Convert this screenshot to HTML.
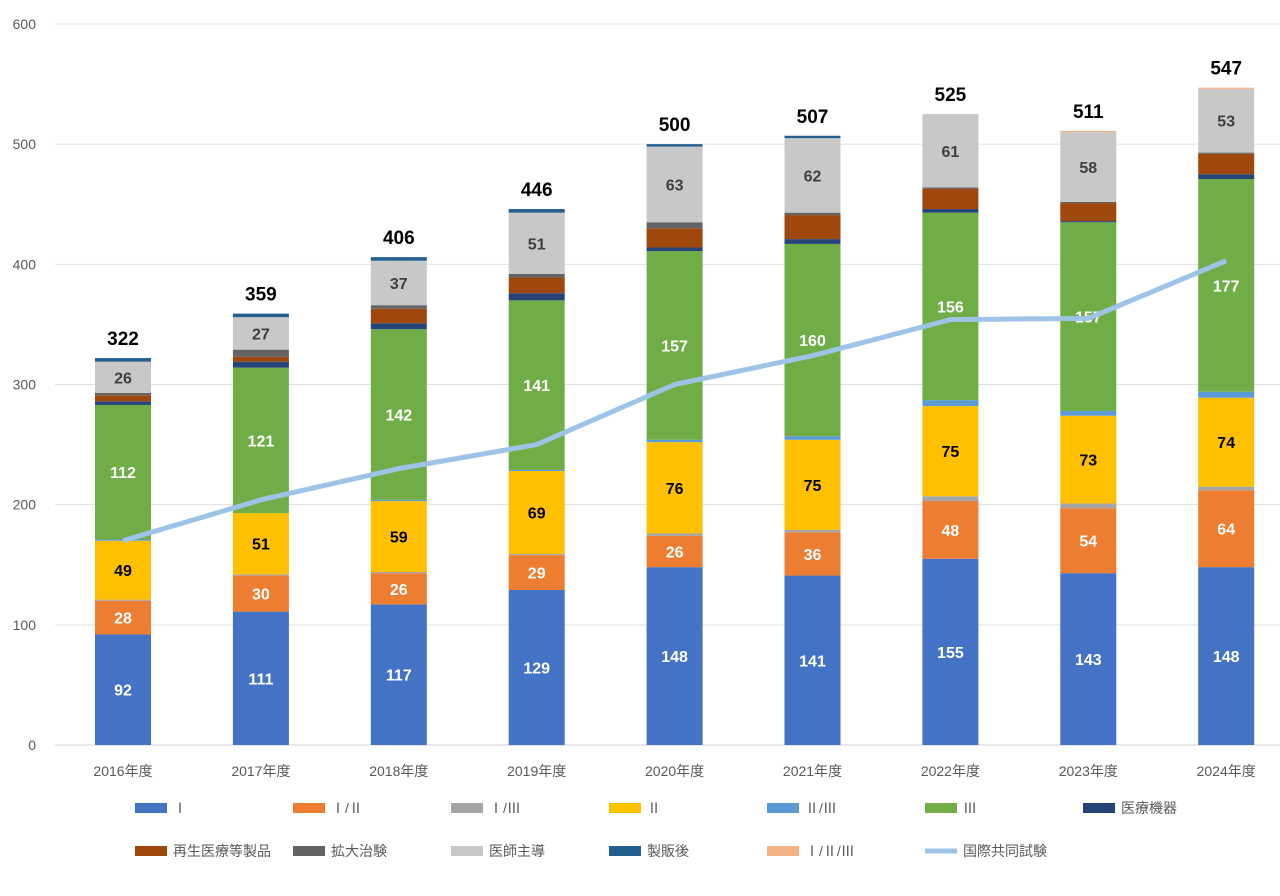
<!DOCTYPE html>
<html><head><meta charset="utf-8"><style>
body{margin:0;background:#fff;font-family:"Liberation Sans","Noto Sans CJK JP",sans-serif}
</style></head><body>
<svg id="c" width="1280" height="896" xmlns="http://www.w3.org/2000/svg" style="display:block"></svg>
<script>
const categories=["2016年度","2017年度","2018年度","2019年度","2020年度","2021年度","2022年度","2023年度","2024年度"];
const seriesNames=["Ⅰ","Ⅰ/Ⅱ","Ⅰ/Ⅲ","Ⅱ","Ⅱ/Ⅲ","Ⅲ","医療機器","再生医療等製品","拡大治験","医師主導","製販後","Ⅰ/Ⅱ/Ⅲ"];
const sI=[92,111,117,129,148,141,155,143,148];
const sI_II=[28,30,26,29,26,36,48,54,64];
const sI_III=[1,1,1,1,2,2,4,4,3];
const sII=[49,51,59,69,76,75,75,73,74];
const sII_III=[1,0,1,1,2,3,5,4,5];
const sIII=[112,121,142,141,157,160,156,157,177];
const sDevice=[3,5,5,6,3,4,3,1,4];
const sRegen=[5,4,12,13,16,20,17,15,17];
const sExpand=[2,6,3,3,5,2,1,1,1];
const sDoctor=[26,27,37,51,63,62,61,58,53];
const sPost=[3,3,3,3,2,2,0,0,0];
const sI_II_III=[0,0,0,0,0,0,0,1,1];
const totals=[322,359,406,446,500,507,525,511,547];
const intl=[170,204,230,250,300,324,354,355,403];
const yTicks=[0,100,200,300,400,500,600];
const colors=["#4472C4","#ED7D31","#A5A5A5","#FFC000","#5B9BD5","#70AD47","#264478","#9E480E","#636363","#C8C8C8","#255E91","#F4B183"];
const allSeries=[sI,sI_II,sI_III,sII,sII_III,sIII,sDevice,sRegen,sExpand,sDoctor,sPost,sI_II_III];
const labelColors={0:"#fff",1:"#fff",3:"#000",5:"#fff",9:"#404040"};
const NS="http://www.w3.org/2000/svg",svg=document.getElementById('c');
const y0=745,ppu=(745-24)/600,x0=55,x1=1280;
const y=v=>y0-v*ppu;
const xc=i=>123+i*137.9;
const bw=56;
function mk(t,a,p){const e=document.createElementNS(NS,t);for(const k in a)e.setAttribute(k,a[k]);(p||svg).appendChild(e);return e;}
yTicks.forEach(t=>{
 const l=mk('line',{x1:x0,x2:x1,y1:y(t),y2:y(t),stroke:t===0?'#d0d0d0':'#e0e0e0','stroke-width':1});
 
 
 const tx=mk('text',{x:36,y:y(t)+5,'text-anchor':'end','font-size':14,fill:'#595959'});tx.textContent=t;
 
 
});
categories.forEach((c,i)=>{
 let acc=0;
 allSeries.forEach((s,k)=>{
  const v=s[i];if(v<=0)return;
  const r=mk('rect',{x:xc(i)-bw/2,y:y(acc+v),width:bw,height:v*ppu,fill:colors[k]});
  
  
  if(labelColors[k]!==undefined){
   const t=mk('text',{x:xc(i),y:y(acc+v/2)+6,'text-anchor':'middle','font-size':16,'font-weight':'bold',fill:labelColors[k]});t.textContent=v;
   
   
  }
  acc+=v;
 });
 const tt=mk('text',{x:xc(i),y:y(totals[i])-13,'text-anchor':'middle','font-size':19,'font-weight':'bold',fill:'#000'});tt.textContent=totals[i];
 
 
 const xl=mk('text',{x:xc(i),y:776,'text-anchor':'middle','font-size':14,fill:'#595959'});xl.textContent=c;
 
 
});
const pl=mk('polyline',{points:intl.map((v,i)=>xc(i)+','+y(v)).join(' '),fill:'none',stroke:'#9DC3E6','stroke-width':5,'stroke-linejoin':'round'});


// legend
const legendPos=[[135,808],[293,808],[451,808],[609,808],[767,808],[925,808],[1083,808],[135,851],[293,851],[451,851],[609,851],[767,851]];
seriesNames.forEach((n,k)=>{
 const [lx,ly]=legendPos[k];
 const g=mk('g',{});
 
 
 mk('rect',{x:lx,y:ly-5,width:32,height:10,fill:colors[k]},g);
 const t=mk('text',{x:lx+38,y:ly+5,'font-size':14,fill:'#595959'},g);t.textContent=n;
});
const g=mk('g',{});


mk('line',{x1:925,x2:957,y1:851,y2:851,stroke:'#9DC3E6','stroke-width':5},g);
const lt=mk('text',{x:963,y:856,'font-size':14,fill:'#595959'},g);lt.textContent="国際共同試験";
</script>
</body></html>
